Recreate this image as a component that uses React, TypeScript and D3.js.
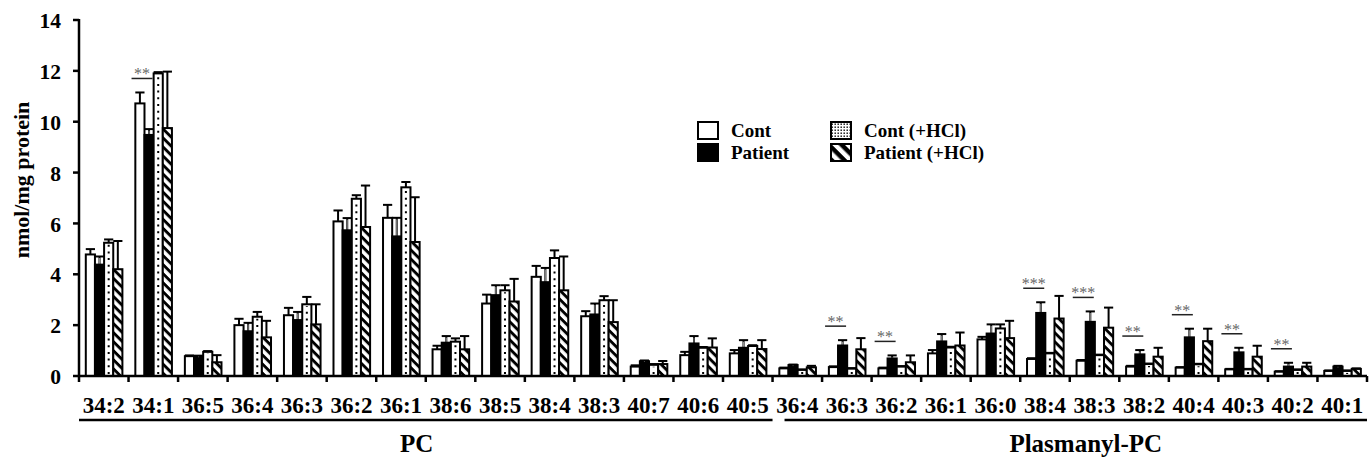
import React from "react";
import * as d3 from "d3";

const categories = [
  "34:2", "34:1", "36:5", "36:4", "36:3", "36:2", "36:1", "38:6", "38:5", "38:4", "38:3", "40:7", "40:6", "40:5",
  "36:4", "36:3", "36:2", "36:1", "36:0", "38:4", "38:3", "38:2", "40:4", "40:3", "40:2", "40:1",
];
const groupLabels = ["PC", "Plasmanyl-PC"];
const groupSizes = [14, 12];
const seriesNames = ["Cont", "Patient", "Cont (+HCl)", "Patient (+HCl)"];

const contValues = [4.78, 10.72, 0.78, 2.0, 2.39, 6.08, 6.22, 1.05, 2.85, 3.9, 2.35, 0.37, 0.82, 0.89,
  0.3, 0.35, 0.3, 0.89, 1.44, 0.67, 0.6, 0.37, 0.33, 0.26, 0.17, 0.2];
const contErrors = [0.21, 0.43, 0.03, 0.25, 0.29, 0.43, 0.51, 0.14, 0.35, 0.43, 0.2, 0.05, 0.13, 0.13,
  0.03, 0.03, 0.03, 0.13, 0.1, 0.03, 0.03, 0.03, 0.02, 0.02, 0.02, 0.02];

const patientValues = [4.38, 9.48, 0.76, 1.76, 2.2, 5.73, 5.49, 1.31, 3.18, 3.69, 2.42, 0.58, 1.28, 1.11,
  0.43, 1.2, 0.69, 1.36, 1.67, 2.48, 2.13, 0.85, 1.52, 0.93, 0.37, 0.37];
const patientErrors = [0.32, 0.23, 0.04, 0.33, 0.32, 0.48, 0.73, 0.26, 0.39, 0.56, 0.43, 0.03, 0.29, 0.3,
  0.02, 0.21, 0.12, 0.29, 0.36, 0.42, 0.41, 0.17, 0.34, 0.18, 0.15, 0.03];

const contHClValues = [5.24, 11.9, 0.95, 2.33, 2.82, 6.97, 7.42, 1.35, 3.37, 4.64, 2.98, 0.44, 1.11, 1.18,
  0.24, 0.29, 0.37, 1.12, 1.87, 0.89, 0.82, 0.47, 0.46, 0.26, 0.24, 0.2];
const contHClErrors = [0.13, 0.05, 0.03, 0.19, 0.29, 0.14, 0.21, 0.13, 0.2, 0.3, 0.16, 0.03, 0.03, 0.03,
  0.02, 0.02, 0.02, 0.03, 0.16, 0.02, 0.02, 0.02, 0.02, 0.02, 0.02, 0.02];

const patientHClValues = [4.2, 9.75, 0.54, 1.52, 2.03, 5.86, 5.27, 1.05, 2.93, 3.37, 2.12, 0.47, 1.12, 1.06,
  0.34, 1.05, 0.54, 1.2, 1.49, 2.26, 1.9, 0.76, 1.37, 0.76, 0.37, 0.28];
const patientHClErrors = [1.11, 2.22, 0.28, 0.65, 0.79, 1.63, 1.76, 0.52, 0.89, 1.33, 0.86, 0.12, 0.36, 0.35,
  0.06, 0.44, 0.27, 0.51, 0.68, 0.89, 0.79, 0.35, 0.49, 0.43, 0.15, 0.02];

const yTicks = [0, 2, 4, 6, 8, 10, 12, 14];
const yLabel = "nmol/mg protein";

const sigIndices = [1, 15, 16, 19, 20, 21, 22, 23, 24];
const sigLabels = ["**", "**", "**", "***", "***", "**", "**", "**", "**"];

const FONT = "'Liberation Serif', 'Times New Roman', Times, serif";

export default function App() {
  const W = 1369;
  const H = 460;
  const idx = d3.range(categories.length);
  const x = d3.scaleBand<number>().domain(idx).range([79, 1367]).padding(0);
  const y = d3.scaleLinear().domain([0, 14]).range([376, 20]);
  const xs = d3.scaleBand<number>().domain([0, 1, 2, 3]).range([6.8, 43.4]).padding(0);
  const bw = x.bandwidth();
  const w = xs.bandwidth();

  const values = [contValues, patientValues, contHClValues, patientHClValues];
  const errors = [contErrors, patientErrors, contHClErrors, patientHClErrors];

  const bars: JSX.Element[] = [];
  const errs: JSX.Element[] = [];
  values.forEach((vals, s) => {
    vals.forEach((v, i) => {
      const x0 = (x(i) as number) + (xs(s) as number);
      const top = y(v);
      const h = y(0) - top;
      const cx = x0 + w / 2;
      const key = `${s}-${i}`;
      if (s === 0) {
        bars.push(<rect key={key} x={x0} y={top} width={w} height={h} fill="#fff" stroke="#000" strokeWidth={2} />);
      } else if (s === 1) {
        bars.push(<rect key={key} x={x0} y={top} width={w} height={h} fill="#000" stroke="#000" strokeWidth={2} />);
      } else if (s === 2) {
        bars.push(
          <g key={key}>
            <rect x={x0} y={top} width={w} height={h} fill="#fff" stroke="#000" strokeWidth={2} />
            <line x1={cx} x2={cx} y1={y(0) - 2} y2={top + 2} stroke="#000" strokeWidth={2} strokeDasharray="2 4.7" />
          </g>
        );
      } else {
        bars.push(
          <g key={key}>
            <rect x={x0} y={top} width={w} height={h} fill="#fff" />
            <rect x={x0} y={top} width={w} height={h} fill="url(#hatch)" stroke="#000" strokeWidth={2} />
          </g>
        );
      }
      const e = errors[s][i];
      const ty = y(v + e);
      errs.push(
        <g key={"e" + key}>
          <line x1={cx} x2={cx} y1={top} y2={ty} stroke="#000" strokeWidth={2} />
          {s === 1 && <line x1={cx} x2={cx} y1={top - 1} y2={ty + 1.5} stroke="#bbb" strokeWidth={0.8} />}
          <line x1={cx - 4.6} x2={cx + 4.6} y1={ty} y2={ty} stroke="#000" strokeWidth={2} />
        </g>
      );
    });
  });

  let start = 0;
  const groups = groupSizes.map((n, g) => {
    const i0 = start;
    const i1 = start + n - 1;
    start += n;
    const gx0 = (x(i0) as number) + (g === 0 ? 0 : 12);
    const gx1 = (x(i1) as number) + bw;
    return { g, gx0, gx1 };
  });
  const groupLabelShift = [-9, 10];

  const legendItems = [
    { s: 0, lx: 698, ly: 122 },
    { s: 1, lx: 698, ly: 144 },
    { s: 2, lx: 831, ly: 122 },
    { s: 3, lx: 831, ly: 144 },
  ];

  return (
    <div style={{ position: "absolute", left: 0, top: 0 }}>
      <svg width={W} height={H} style={{ display: "block", background: "#fff" }} fontFamily={FONT}>
        <defs>
          <pattern id="hatch" patternUnits="userSpaceOnUse" width={6.4} height={6.4} patternTransform="rotate(45)">
            <rect x={0} y={0} width={6.4} height={2.9} fill="#000" />
          </pattern>
          <pattern id="hatchL" patternUnits="userSpaceOnUse" width={9} height={9} patternTransform="rotate(45)">
            <rect x={0} y={0} width={9} height={4.5} fill="#000" />
          </pattern>
          <pattern id="dots" patternUnits="userSpaceOnUse" width={3} height={3}>
            <rect x={0.5} y={0.5} width={1.4} height={1.4} fill="#000" />
          </pattern>
        </defs>

        <g>{bars}</g>
        <g>{errs}</g>

        {sigIndices.map((i, k) => {
          const level = Math.max(contValues[i] + contErrors[i], patientValues[i] + patientErrors[i]);
          const ly = y(level) - 14;
          const lx0 = (x(i) as number) + 3;
          const lx1 = (x(i) as number) + 24;
          return (
            <g key={"sig" + k}>
              <line x1={lx0} x2={lx1} y1={ly} y2={ly} stroke="#222" strokeWidth={1.5} />
              <text x={(lx0 + lx1) / 2} y={ly + 1} textAnchor="middle" fontSize={16} fill="#666">
                {sigLabels[k]}
              </text>
            </g>
          );
        })}

        <line x1={79} x2={79} y1={y(14) - 1} y2={y(0) + 1} stroke="#000" strokeWidth={2.5} />
        {yTicks.map((t) => (
          <g key={"yt" + t}>
            <line x1={73} x2={79} y1={y(t)} y2={y(t)} stroke="#000" strokeWidth={2.5} />
            <text x={61} y={y(t)} dy="0.38em" textAnchor="end" fontSize={21.5} fontWeight="bold">
              {t}
            </text>
          </g>
        ))}
        <text transform={`translate(28.5,180) rotate(-90)`} textAnchor="middle" fontSize={22} fontWeight="bold">
          {yLabel}
        </text>

        <line x1={79} x2={1367} y1={y(0)} y2={y(0)} stroke="#000" strokeWidth={2.5} />
        {d3.range(categories.length + 1).map((i) => {
          const tx = i < categories.length ? (x(i) as number) : 1367;
          return <line key={"xt" + i} x1={tx} x2={tx} y1={y(0)} y2={y(0) + 6} stroke="#000" strokeWidth={2.5} />;
        })}
        {categories.map((c, i) => (
          <text key={"xl" + i} x={(x(i) as number) + bw / 2} y={413} textAnchor="middle" fontSize={23} fontWeight="bold">
            {c}
          </text>
        ))}

        {groups.map(({ g, gx0, gx1 }) => (
          <g key={"g" + g}>
            <line x1={gx0} x2={gx1} y1={420} y2={420} stroke="#000" strokeWidth={2.5} />
            <text x={(gx0 + gx1) / 2 + groupLabelShift[g]} y={452} textAnchor="middle" fontSize={25} fontWeight="bold">
              {groupLabels[g]}
            </text>
          </g>
        ))}

        {legendItems.map(({ s, lx, ly }) => (
          <g key={"lg" + s}>
            <rect x={lx} y={ly} width={20} height={17} fill={s === 1 ? "#000" : "#fff"} />
            {s === 2 && <rect x={lx} y={ly} width={20} height={17} fill="url(#dots)" />}
            {s === 3 && <rect x={lx} y={ly} width={20} height={17} fill="url(#hatchL)" />}
            <rect x={lx} y={ly} width={20} height={17} fill="none" stroke="#000" strokeWidth={2} />
            <text x={lx + 33} y={ly + 15} fontSize={19} fontWeight="bold">
              {seriesNames[s]}
            </text>
          </g>
        ))}
      </svg>
    </div>
  );
}
